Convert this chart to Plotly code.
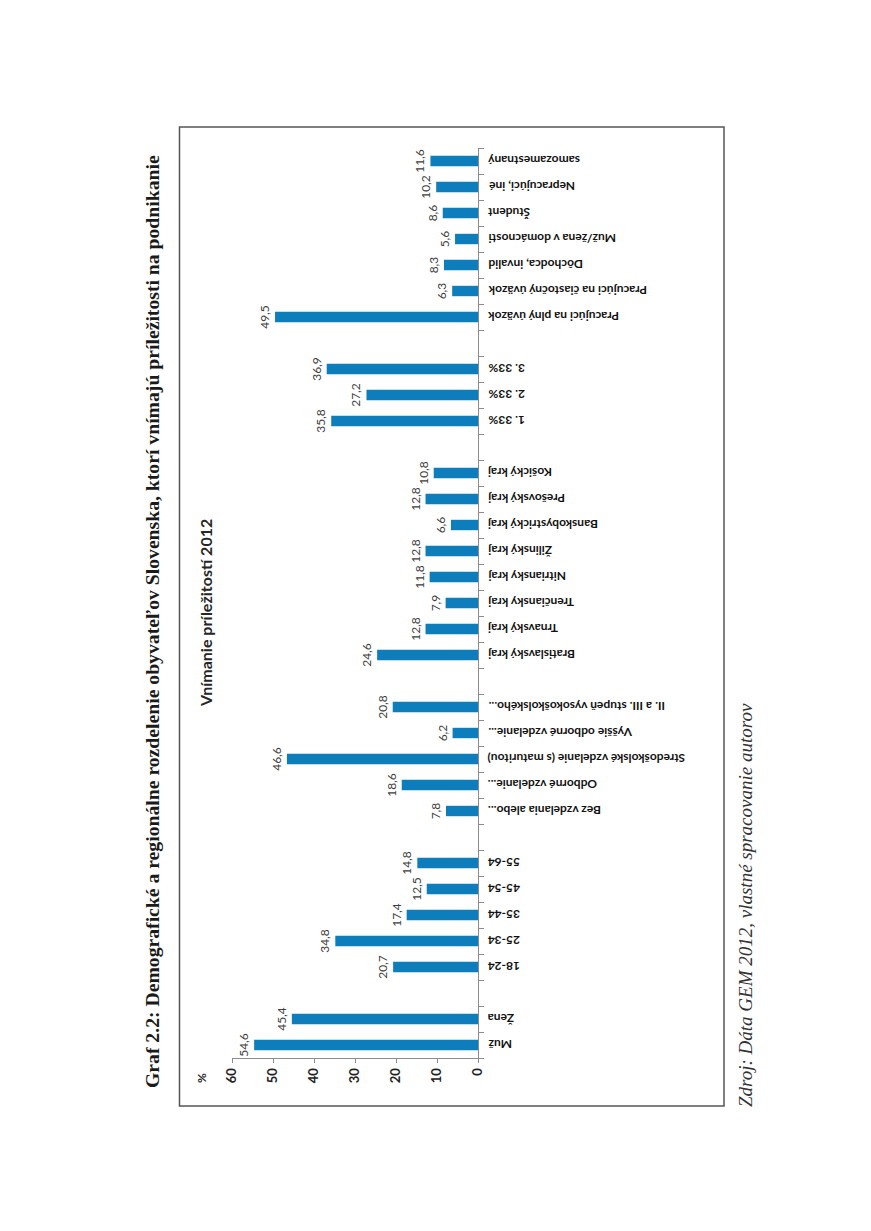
import plotly.graph_objects as go

# ---- data (bottom to top as in the picture) ----
categories = [
    "Muž", "Žena", " ",
    "18-24", "25-34", "35-44", "45-54", "55-64", "  ",
    "Bez vzdelania alebo...", "Odborné vzdelanie...",
    "Stredoškolské vzdelanie (s maturitou)", "Vyššie odborné vzdelanie...",
    "II. a III. stupeň vysokoškolského...", "   ",
    "Bratislavský kraj", "Trnavský kraj", "Trenčiansky kraj", "Nitriansky kraj",
    "Žilinský kraj", "Banskobystrický kraj", "Prešovský kraj", "Košický kraj", "    ",
    "1. 33%", "2. 33%", "3. 33%", "     ",
    "Pracujúci na plný úväzok", "Pracujúci na čiastočný úväzok", "Dôchodca, invalid",
    "Muž/žena v domácnosti", "Študent", "Nepracujúci, iné", "samozamestnaný",
]
values = [
    54.6, 45.4, None,
    20.7, 34.8, 17.4, 12.5, 14.8, None,
    7.8, 18.6, 46.6, 6.2, 20.8, None,
    24.6, 12.8, 7.9, 11.8, 12.8, 6.6, 12.8, 10.8, None,
    35.8, 27.2, 36.9, None,
    49.5, 6.3, 8.3, 5.6, 8.6, 10.2, 11.6,
]
value_ticks = [0, 10, 20, 30, 40, 50, 60]
labels = ["" if v is None else f"{v:.1f}".replace(".", ",") for v in values]

# page offset of the plot in the browser (body margin)
OFF = 8
W, H = 871 - OFF, 1231 - OFF
L, R, T, B = 232 - OFF, 871 - 478, 148 - OFF, 1231 - 1058
PW, PH = W - L - R, H - T - B


def px(x):
    return (x - OFF - L) / PW


def py(y):
    return 1 - (y - OFF - T) / PH


BAR = "#0E7DBB"
FONT = "Lato"

fig = go.Figure(go.Bar(
    y=categories, x=values, orientation="h",
    marker=dict(color=BAR, line=dict(width=0)),
    text=labels, textposition="outside", textangle=-90,
    constraintext="none",
    textfont=dict(family=FONT, size=12, color="#404040"),
    cliponaxis=False, width=0.4,
))

fig.update_layout(
    width=W, height=H,
    margin=dict(l=L, r=R, t=T, b=B, pad=0, autoexpand=False),
    paper_bgcolor="white", plot_bgcolor="white",
    showlegend=False,
    xaxis=dict(
        range=[60, 0], autorange=False,
        tickvals=value_ticks, ticktext=[str(v) for v in value_ticks],
        tickangle=-90, tickfont=dict(family=FONT, size=13, color="#222222", weight="bold"),
        showgrid=False, zeroline=False,
        showline=True, linecolor="#8c8c8c", linewidth=1,
        ticks="outside", ticklen=4, tickcolor="#8c8c8c",
    ),
    yaxis=dict(
        type="category", categoryorder="array", categoryarray=categories,
        side="right", showticklabels=False,
        showgrid=False, zeroline=False,
        showline=True, linecolor="#8c8c8c", linewidth=1,
        ticks="outside", ticklen=5, tickcolor="#8c8c8c",
        tickson="boundaries",
        range=[-0.5, len(categories) - 0.5],
    ),
)

# category labels (upside-down, ending next to the axis)
for c in categories:
    if c.strip():
        fig.add_annotation(text=f"<b>{c}</b>", textangle=180,
                           xref="paper", yref="y", x=px(486), y=c,
                           xanchor="left", yanchor="middle", showarrow=False,
                           font=dict(family=FONT, size=12, color="#111111"))

# frame of the chart
fig.add_shape(type="rect", xref="paper", yref="paper",
              x0=px(179.5), x1=px(724), y0=py(1106), y1=py(127),
              line=dict(color="#555555", width=1.5), layer="below")

# chart title
fig.add_annotation(text="<b>Vnímanie príležitostí 2012</b>", textangle=-90,
                   xref="paper", yref="paper", x=px(205), y=py(613),
                   xanchor="center", yanchor="middle",
                   showarrow=False, font=dict(family=FONT, size=16, color="#262626"))
# axis unit
fig.add_annotation(text="<b>%</b>", textangle=-90,
                   xref="paper", yref="paper", x=px(201), y=py(1078),
                   xanchor="center", yanchor="middle",
                   showarrow=False, font=dict(family=FONT, size=12, color="#222222"))
# figure caption
fig.add_annotation(
    text="<b>Graf 2.2: Demografické a regionálne rozdelenie obyvateľov Slovenska, ktorí vnímajú príležitosti na podnikanie</b>",
    textangle=-90, xref="paper", yref="paper", x=px(152), y=py(622),
    xanchor="center", yanchor="middle",
    showarrow=False, font=dict(family="Liberation Serif", size=19.7, color="#1a1a1a"))
# source
fig.add_annotation(
    text="<i>Zdroj: Dáta GEM 2012, vlastné spracovanie autorov</i>",
    textangle=-90, xref="paper", yref="paper", x=px(745), y=py(905),
    xanchor="center", yanchor="middle",
    showarrow=False, font=dict(family="Liberation Serif", size=19, color="#333333"))

fig.write_html("out.html")
